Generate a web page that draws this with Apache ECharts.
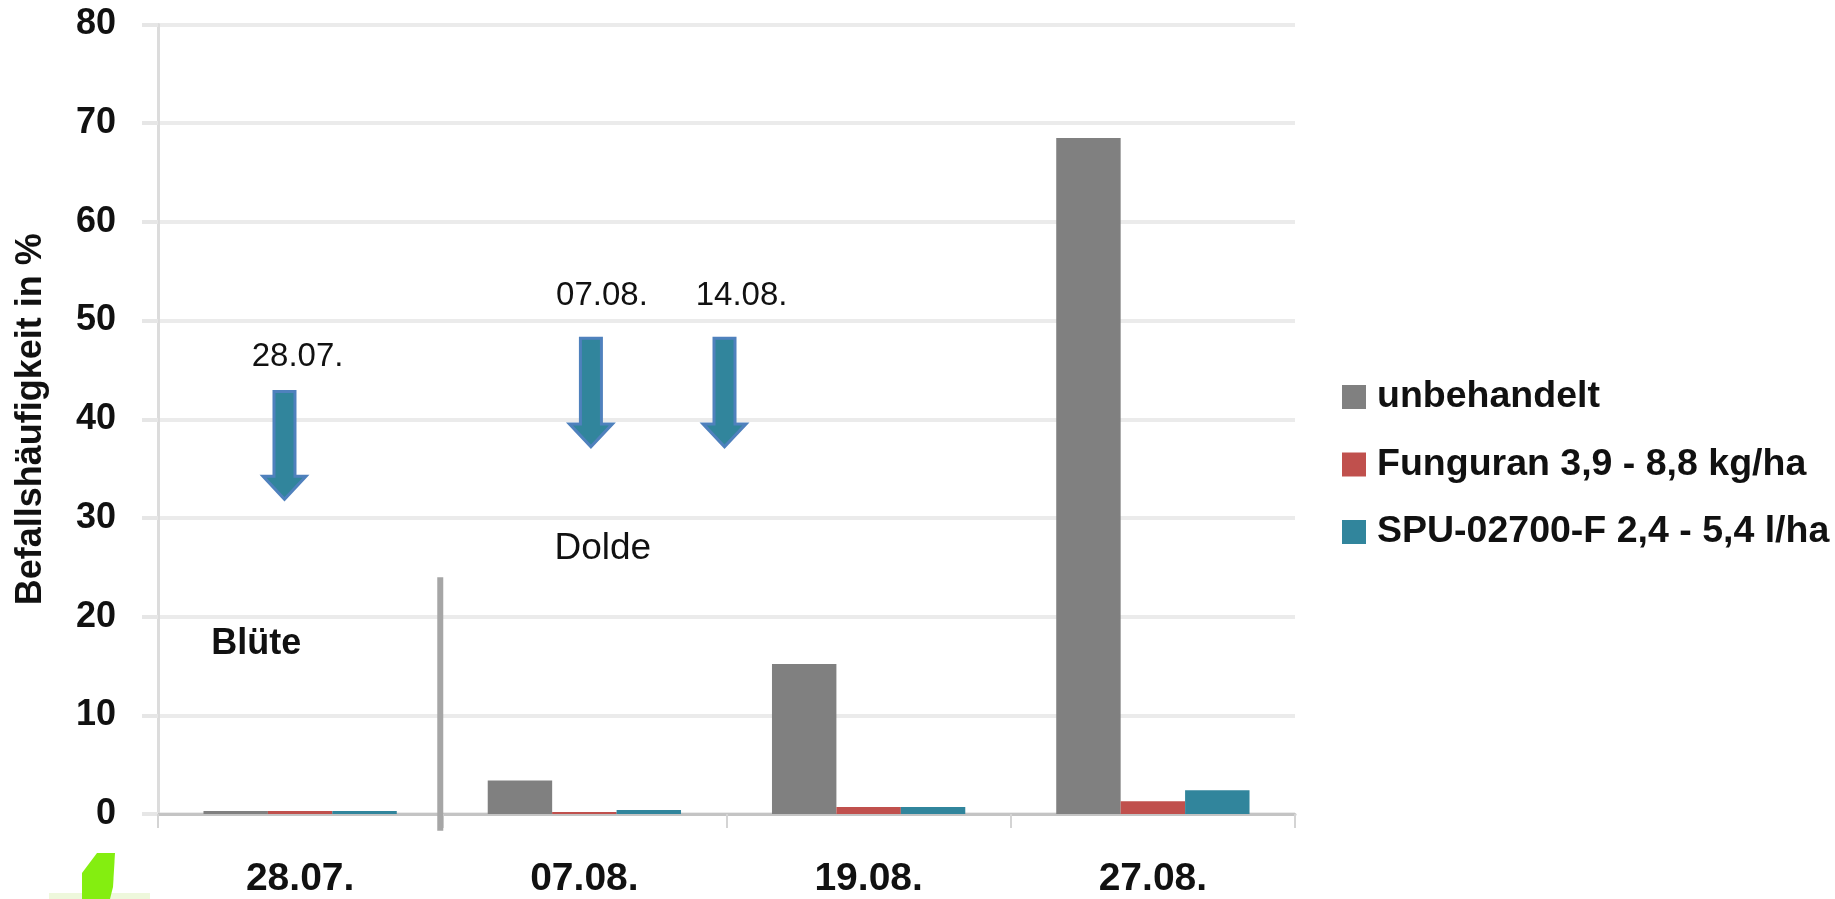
<!DOCTYPE html>
<html>
<head>
<meta charset="utf-8">
<script src="https://cdn.jsdelivr.net/npm/echarts@6/dist/echarts.min.js"></script>
<style>html,body{margin:0;padding:0;background:#fff;}#c{width:1835px;height:899px;}</style>
</head>
<body>
<div id="c"></div>
<script>
// ---- data ----
const categories = ['28.07.', '07.08.', '19.08.', '27.08.'];
const seriesNames = ['unbehandelt', 'Funguran 3,9 - 8,8 kg/ha', 'SPU-02700-F 2,4 - 5,4 l/ha'];
const unbehandelt = [0.3, 3.4, 15.2, 68.5];
const funguran = [0.3, 0.2, 0.7, 1.3];
const spu = [0.3, 0.4, 0.7, 2.4];
const yTicks = [0, 10, 20, 30, 40, 50, 60, 70, 80];
const yAxisName = 'Befallshäufigkeit in %';
// application arrows (x in category units from left edge, y in %)
const arrowLabels = ['28.07.', '07.08.', '14.08.'];
const arrowX = [0.445, 1.523, 1.993];
const arrowTop = [42.8, 48.2, 48.2];
const arrowTip = [31.9, 37.2, 37.2];
const arrowLabelX = [0.491, 1.562, 2.053];
const arrowLabelY = [46.3, 52.5, 52.5];
// stage annotations
const stageLabels = ['Blüte', 'Dolde'];
const stageX = [0.346, 1.565];
const stageY = [17.2, 26.9];
const separatorX = [0.993];
const separatorTop = [24.0];
const separatorBottom = [-1.7];

const colors = ['#808080', '#c0504d', '#31859c'];
const FONT = '"Liberation Sans", Arial, sans-serif';

const chart = echarts.init(document.getElementById('c'));

const arrowData = arrowX.map((x, i) => [x, arrowTop[i], arrowTip[i]]);
const arrowLabelData = arrowLabelX.map((x, i) => [x, arrowLabelY[i], arrowLabels[i]]);
const stageData = stageX.map((x, i) => [x, stageY[i], stageLabels[i], i]);
const sepData = separatorX.map((x, i) => [x, separatorTop[i], separatorBottom[i]]);

chart.setOption({
  animation: false,
  backgroundColor: '#ffffff',
  grid: { left: 158, right: 540, top: 24.5, bottom: 84 },
  legend: {
    orient: 'vertical',
    left: 1337,
    top: 372,
    itemWidth: 24,
    itemHeight: 24,
    itemGap: 27.5,
    icon: 'rect',
    data: seriesNames,
    textStyle: { fontFamily: FONT, fontWeight: 'bold', fontSize: 37.5, color: '#111', lineHeight: 40, padding: [0, 0, 0, 6] }
  },
  xAxis: [{
    type: 'category',
    data: categories,
    axisLine: { lineStyle: { color: '#c4c4c4', width: 3 } },
    axisTick: { show: true, length: 14, lineStyle: { color: '#d4d4d4', width: 2 } },
    axisLabel: { fontFamily: FONT, fontWeight: 'bold', fontSize: 39, color: '#111', margin: 46 }
  }, {
    type: 'value', min: 0, max: 4, show: false
  }],
  yAxis: {
    type: 'value',
    min: yTicks[0],
    max: yTicks[yTicks.length - 1],
    interval: 10,
    name: yAxisName,
    nameLocation: 'middle',
    nameRotate: 90,
    nameGap: 109,
    nameTextStyle: { fontFamily: FONT, fontWeight: 'bold', fontSize: 36, color: '#111' },
    axisLine: { show: true, lineStyle: { color: '#dcdcdc', width: 3 } },
    axisTick: { show: true, length: 16, lineStyle: { color: '#e6e6e6', width: 4 } },
    splitLine: { lineStyle: { color: '#ebebeb', width: 4 } },
    axisLabel: { fontFamily: FONT, fontWeight: 'bold', fontSize: 36, color: '#111', margin: 42 }
  },
  series: [
    { name: seriesNames[0], type: 'bar', data: unbehandelt, itemStyle: { color: colors[0] }, barGap: 0, barCategoryGap: '32%' },
    { name: seriesNames[1], type: 'bar', data: funguran, itemStyle: { color: colors[1] }, barGap: 0, barCategoryGap: '32%' },
    { name: seriesNames[2], type: 'bar', data: spu, itemStyle: { color: colors[2] }, barGap: 0, barCategoryGap: '32%' },
    {
      type: 'custom', xAxisIndex: 1, silent: true, data: sepData, encode: { x: 0, y: [1, 2] }, z: 5,
      renderItem: (params, api) => {
        const p1 = api.coord([api.value(0), api.value(1)]);
        const p2 = api.coord([api.value(0), api.value(2)]);
        return { type: 'line', shape: { x1: p1[0], y1: p1[1], x2: p2[0], y2: p2[1] }, style: { stroke: '#a6a6a6', lineWidth: 6 } };
      }
    },
    {
      type: 'custom', xAxisIndex: 1, silent: true, data: arrowData, encode: { x: 0, y: [1, 2] }, z: 6,
      renderItem: (params, api) => {
        const t = api.coord([api.value(0), api.value(1)]);
        const b = api.coord([api.value(0), api.value(2)]);
        const cx = t[0], hw = 10.5, hh = 21.5, hs = b[1] - 23;
        return {
          type: 'polygon',
          shape: { points: [[cx - hw, t[1]], [cx + hw, t[1]], [cx + hw, hs], [cx + hh, hs], [cx, b[1]], [cx - hh, hs], [cx - hw, hs]] },
          style: { fill: '#31859c', stroke: '#4f81bd', lineWidth: 3 }
        };
      }
    },
    {
      type: 'custom', xAxisIndex: 1, silent: true, data: arrowLabelData, encode: { x: 0, y: 1 }, z: 6,
      renderItem: (params, api) => {
        const p = api.coord([api.value(0), api.value(1)]);
        return { type: 'text', style: { text: arrowLabels[params.dataIndex], x: p[0], y: p[1], fill: '#111', font: '33px ' + FONT, align: 'center', verticalAlign: 'middle' } };
      }
    },
    {
      type: 'custom', xAxisIndex: 1, silent: true, data: stageData, encode: { x: 0, y: 1 }, z: 6,
      renderItem: (params, api) => {
        const p = api.coord([api.value(0), api.value(1)]);
        const bold = params.dataIndex === 0;
        return { type: 'text', style: { text: stageLabels[params.dataIndex], x: p[0], y: p[1], fill: '#111', font: (bold ? 'bold 36px ' : '37px ') + FONT, align: 'center', verticalAlign: 'middle' } };
      }
    }
  ],
  graphic: [
    { type: 'rect', shape: { x: 49, y: 893, width: 101, height: 6 }, style: { fill: '#eef8dc' }, silent: true },
    { type: 'polygon', shape: { points: [[97, 853], [115, 853], [113, 887], [110, 899], [82, 899], [82, 873]] }, style: { fill: '#84ee10' }, silent: true }
  ]
});
</script>
</body>
</html>
